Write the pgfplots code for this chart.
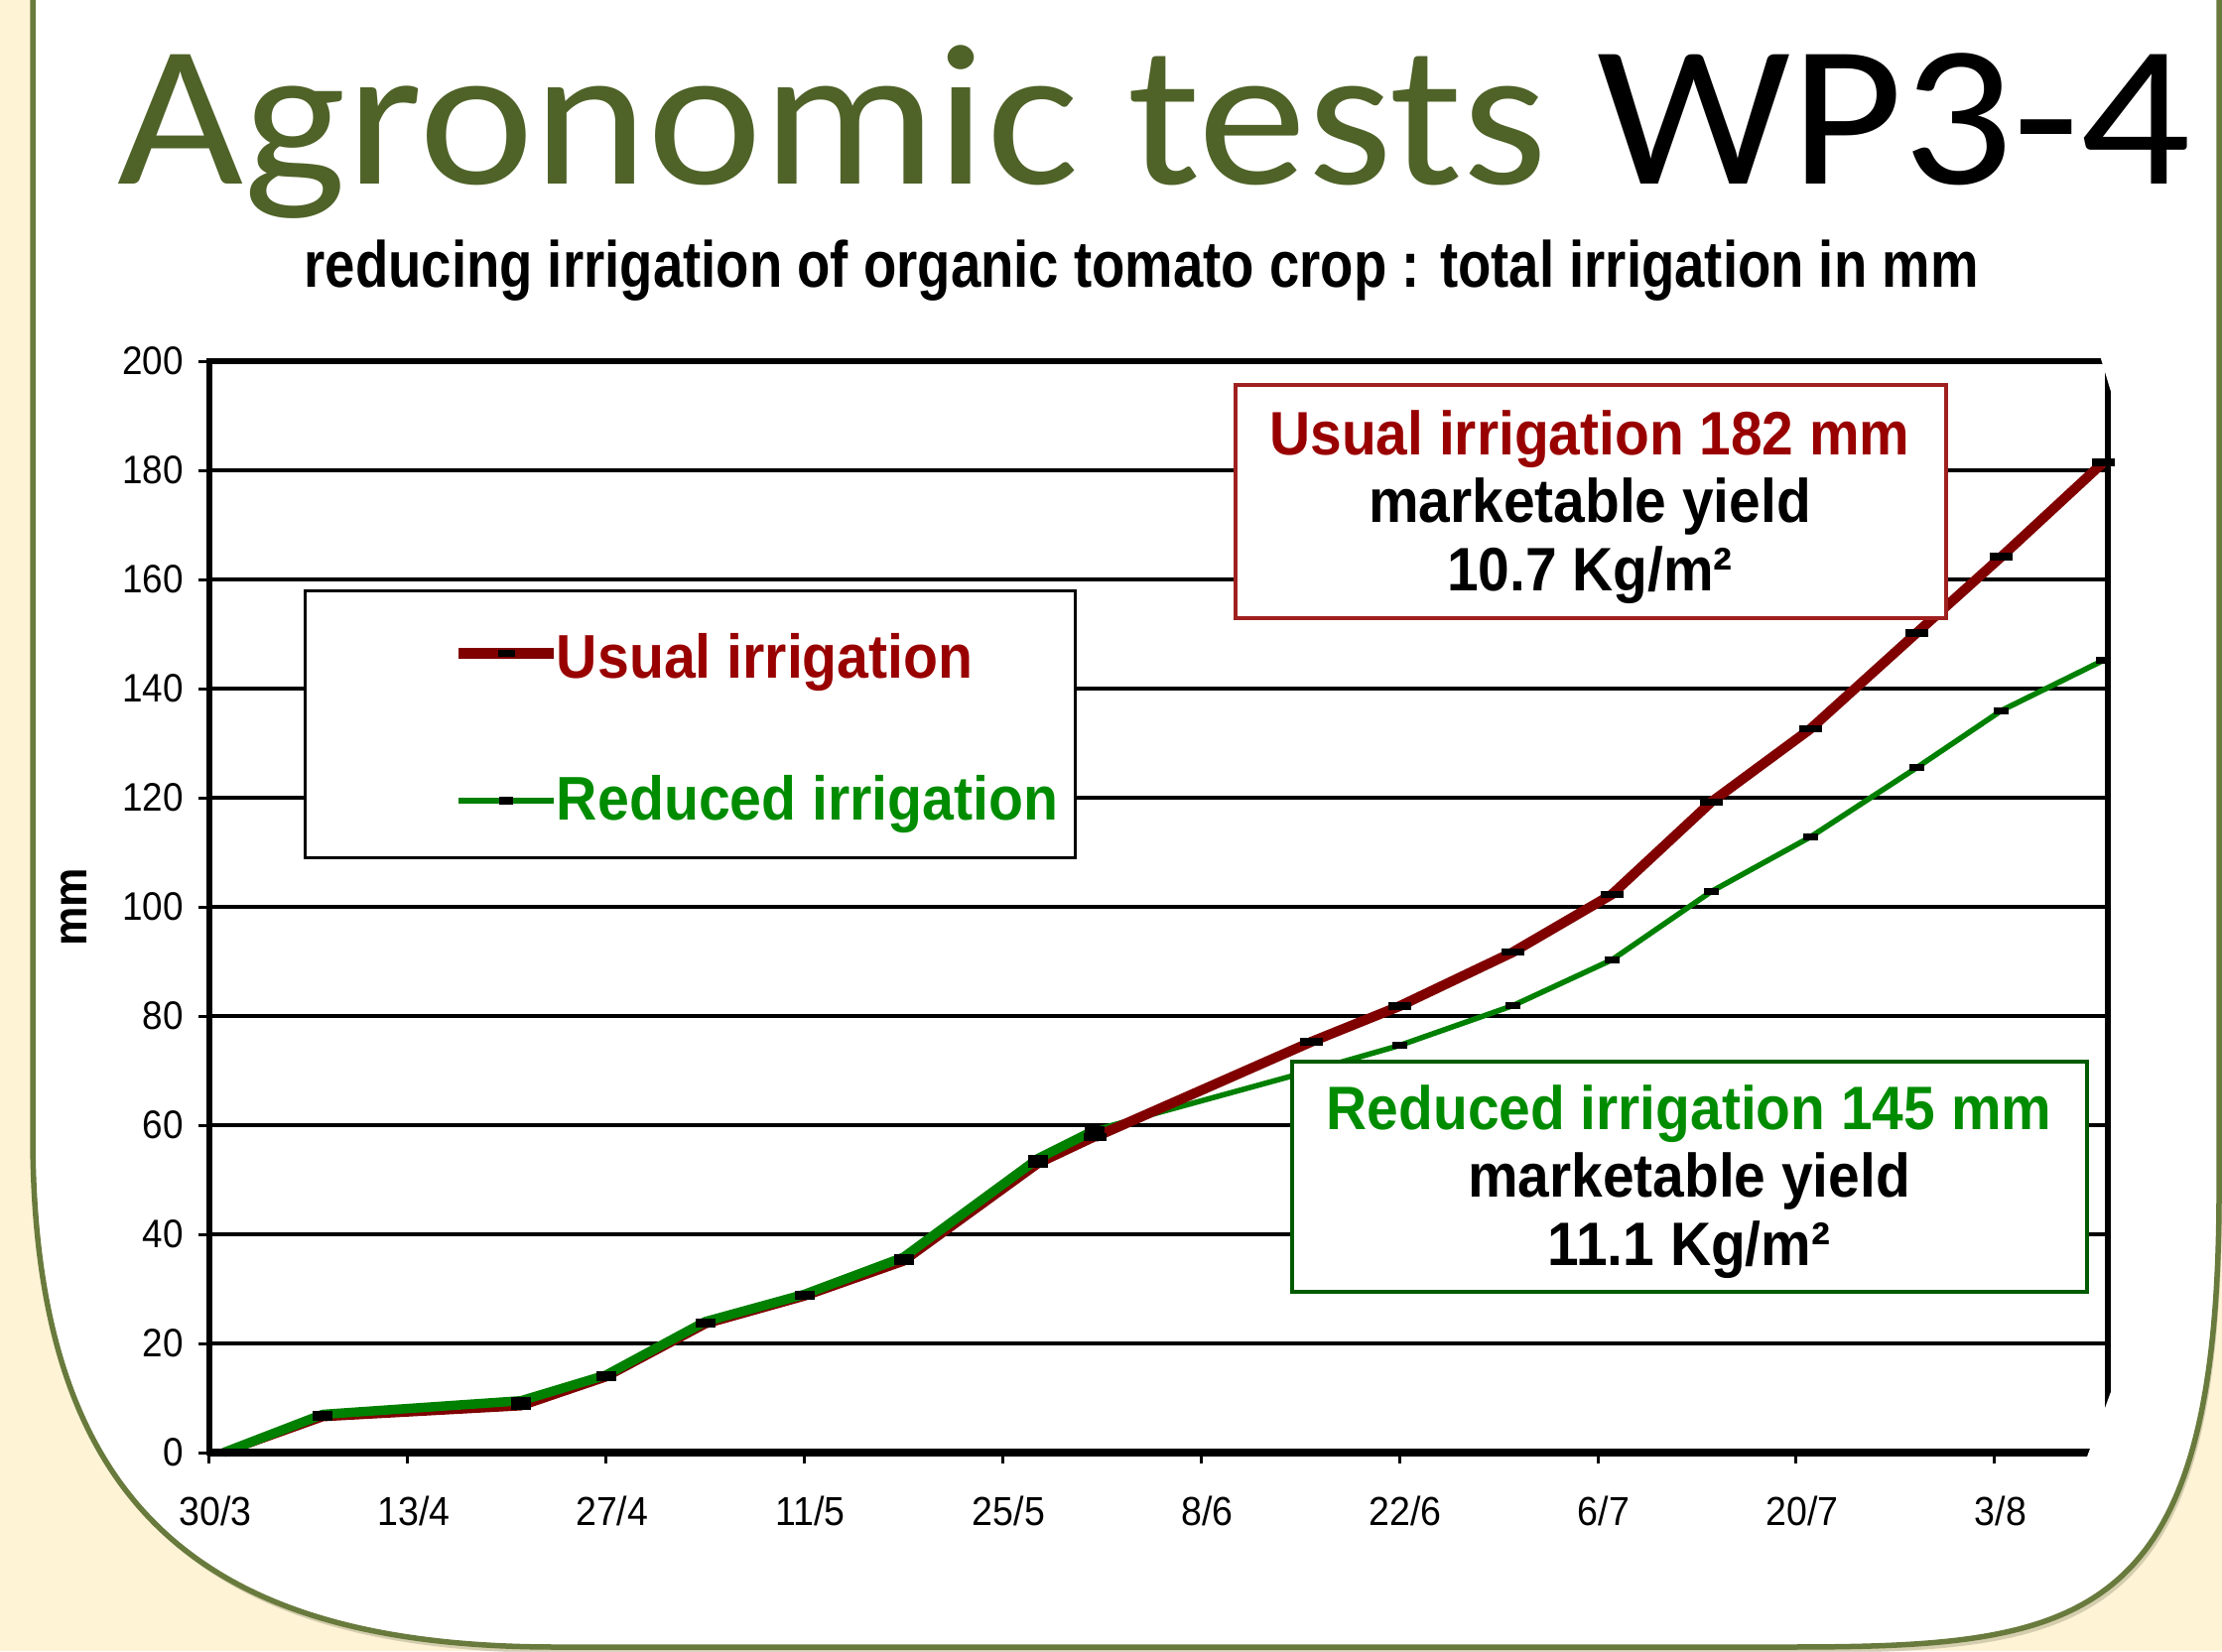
\documentclass[border=0pt]{standalone}
\usepackage{pgfplots}
\pgfplotsset{compat=1.18}
\usepackage{pgfplotstable}
\usepackage{graphicx}
\usepackage{fontspec}
\setmainfont{Liberation Sans}[FakeStretch=0.92]
\newfontfamily\titlefont{Carlito}
\newfontfamily\subfont{Liberation Sans}[FakeStretch=0.83]
\definecolor{cream}{HTML}{FFF3D6}
\definecolor{olivebord}{HTML}{687A3C}
\definecolor{titleolive}{HTML}{4F6228}
\definecolor{linered}{HTML}{800000}
\definecolor{textred}{HTML}{990000}
\definecolor{boxred}{HTML}{A02020}
\definecolor{linegreen}{HTML}{008000}
\definecolor{textgreen}{HTML}{008C00}
\definecolor{boxgreen}{HTML}{005A00}

\pgfplotstableread{
day usual reduced
1 0 0
8 6.5 7.0
22 8.5 9.5
28 13.8 14.2
35 23.5 24.0
42 28.6 29.0
49 35.0 35.8
58.5 52.9 53.9
62.5 57.8 59.1
}\early
\pgfplotstableread{
day usual reduced
62.5 57.8 59.1
77.8 75.3 70.0
84 81.8 74.6
92 91.7 81.9
99 102.3 90.3
106 119.2 102.8
113 132.6 112.8
120.5 150.2 125.5
126.5 164.2 136.0
133.7 181.5 145.2
}\late

\def\boxpath{(33,1720) -- (33,520) .. controls (33,150) and (200,4) .. (560,4) -- (1800,4) .. controls (2100,4) and (2236,24) .. (2236,464) -- (2236,1720)}

\begin{document}
\begin{tikzpicture}[x=0.1mm,y=0.1mm]
\useasboundingbox (0,0) rectangle (2239,1664);
\fill[cream] (0,0) rectangle (2239,1664);
\begin{scope}[shift={(3,-6)}]
\fill[black!40!olivebord, opacity=0.22] \boxpath -- cycle;
\end{scope}
\fill[white] \boxpath -- cycle;
\draw[olivebord, line width=0.55mm] \boxpath;

\node[anchor=base west, inner sep=0, text=titleolive] at (118,1478)
  {\scalebox{1.08}[1]{\titlefont\fontsize{57.8pt}{60pt}\selectfont Agronomic tests \textcolor{black}{WP3-4}}};
\node[anchor=base, inner sep=0] at (1150,1374)
  {\subfont\bfseries\fontsize{18.7pt}{20pt}\selectfont reducing irrigation of organic tomato crop : total irrigation in mm};

\begin{axis}[
  at={(21.1mm,20mm)}, anchor=south west,
  scale only axis, width=191.3mm, height=110mm,
  xmin=0, xmax=134, ymin=0, ymax=200,
  clip=false,
  axis line style={line width=0.55mm},
  tick pos=left,
  tick align=outside,
  major tick length=1.1mm,
  tick style={black, line width=0.3mm},
  xtick={0,14,...,126},
  xticklabels={30/3,13/4,27/4,11/5,25/5,8/6,22/6,6/7,20/7,3/8},
  ytick={0,20,...,200},
  ymajorgrids,
  major grid style={black, line width=0.38mm},
  /pgf/number format/assume math mode=true,
  xticklabel style={font=\fontsize{11.6pt}{12pt}\selectfont, yshift=-2.1mm, xshift=0.6mm},
  yticklabel style={font=\fontsize{11.4pt}{12pt}\selectfont, xshift=-0.3mm},
  ylabel={mm},
  ylabel style={font=\bfseries\fontsize{13.7pt}{14pt}\selectfont, at={(rel axis cs:-0.0716,0.5)}, anchor=center},
  legend style={at={(axis cs:6.65,158.2)}, anchor=north west, draw=black, line width=0.3mm, fill=white,
    inner xsep=1.7mm, inner ysep=3.2mm, row sep=9.3mm,
    font=\bfseries\fontsize{17.7pt}{18pt}\selectfont, nodes={inner sep=0pt},
    /tikz/every odd column/.append style={column sep=-0.3mm}},
  legend cell align=left,
  legend image code/.code={\path[draw=none,fill=none] (-13.8mm,0) rectangle (0,0.1mm);
    \draw[mark repeat=2, mark phase=2, #1] plot coordinates {(0mm,0mm) (4.8mm,0mm) (9.6mm,0mm)};},
]
\addplot[linered, line width=0.85mm, line join=round, mark=-, mark size=1.0mm, mark options={black, line width=0.7mm}, forget plot] table[x=day,y=usual]{\early};
\addplot[linegreen, line width=0.95mm, line join=round, mark=-, mark size=1.0mm, mark options={black, line width=0.7mm}, forget plot] table[x=day,y=reduced]{\early};
\addplot[linegreen, line width=0.55mm, line join=round, mark=-, mark size=0.75mm, mark options={black, line width=0.7mm}, forget plot] table[x=day,y=reduced]{\late};
\addplot[linered, line width=1.0mm, line join=round, mark=-, mark size=1.15mm, mark options={black, line width=0.75mm}, forget plot] table[x=day,y=usual]{\late};
\draw[black, line width=0.75mm] (axis cs:0,0) -- (axis cs:134,0);
\addlegendimage{linered, line width=1.1mm, mark=-, mark size=0.85mm, mark options={black, line width=0.7mm}}
\addlegendentry{\textcolor{textred}{\rule{0pt}{5.6mm}Usual irrigation}}
\addlegendimage{linegreen, line width=0.65mm, mark=-, mark size=0.7mm, mark options={black, line width=0.75mm}}
\addlegendentry{\textcolor{textgreen}{Reduced irrigation}}
\end{axis}

\fill[white] (2115,1309) -- (2150,1309) -- (2150,1266) -- (2128,1266) -- cycle;
\fill[white] (2128,264) -- (2150,264) -- (2150,174) -- (2095,174) -- cycle;

\draw[boxred, line width=0.35mm, fill=white] (1245,1041) rectangle (1961,1276);
\node[align=center, font=\bfseries\fontsize{17.6pt}{19.5pt}\selectfont, inner sep=0] at (1602,1153)
  {\textcolor{textred}{Usual irrigation 182 mm}\\marketable yield\\10.7 Kg/m²};
\draw[boxgreen, line width=0.4mm, fill=white] (1302,362) rectangle (2103,594);
\node[align=center, font=\bfseries\fontsize{17.6pt}{19.5pt}\selectfont, inner sep=0] at (1702,473)
  {\textcolor{textgreen}{Reduced irrigation 145 mm}\\marketable yield\\11.1 Kg/m²};
\end{tikzpicture}
\end{document}
